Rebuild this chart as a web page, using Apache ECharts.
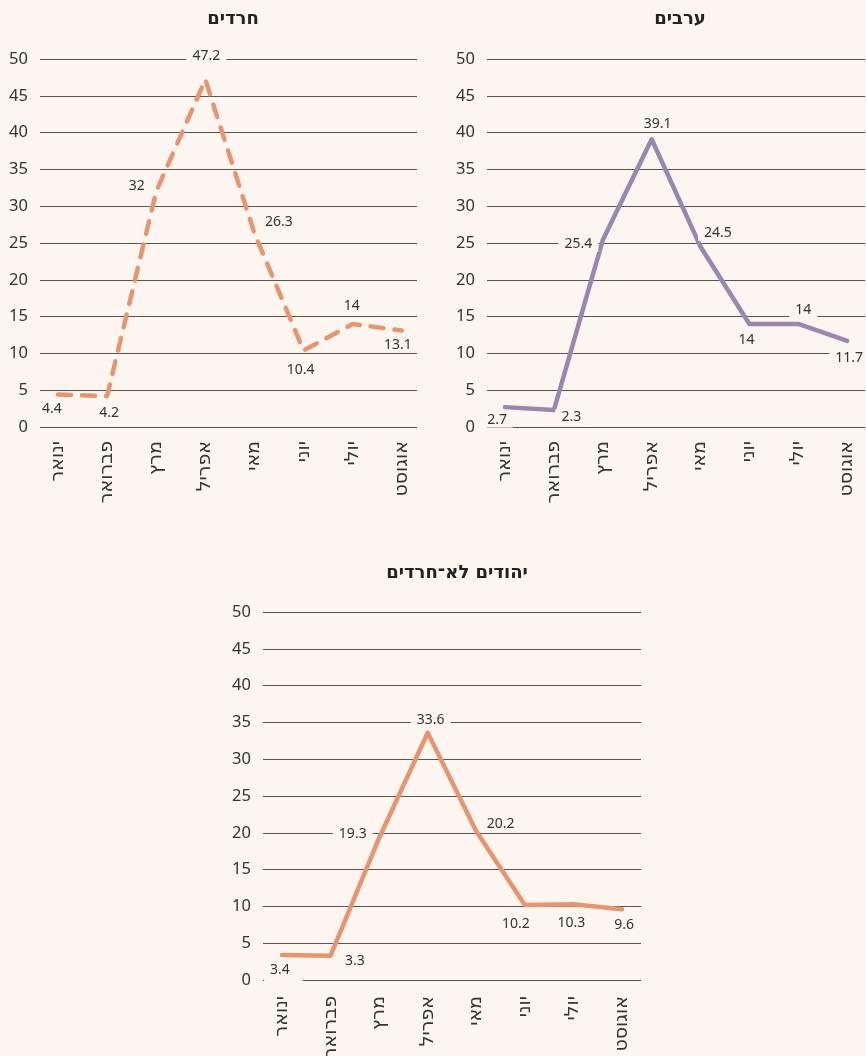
<!DOCTYPE html>
<html>
<head>
<meta charset="utf-8">
<script src="https://cdn.jsdelivr.net/npm/echarts@6/dist/echarts.min.js"></script>
<style>
  html, body { margin: 0; padding: 0; background: #fcf5f0; }
  #chart { width: 866px; height: 1056px; }
</style>
</head>
<body>
<div id="chart"></div>
<script>
// קטגוריות וערכים
const months = ['ינואר', 'פברואר', 'מרץ', 'אפריל', 'מאי', 'יוני', 'יולי', 'אוגוסט'];
const haredim = [4.4, 4.2, 32, 47.2, 26.3, 10.4, 14, 13.1];
const arabs = [2.7, 2.3, 25.4, 39.1, 24.5, 14, 14, 11.7];
const nonHaredi = [3.4, 3.3, 19.3, 33.6, 20.2, 10.2, 10.3, 9.6];
const titles = ['חרדים', 'ערבים', 'יהודים לא־חרדים'];

// מיקום תוויות הנתונים (position, offset, padding אופציונלי)
const labelsHaredim = [
    ['bottom', [-6, 1]], ['bottom', [2, 3]], ['left', [0, -5]], ['top', [1, -10]],
    ['right', [-1, -11]], ['bottom', [-3, 6]], ['top', [-1, -4]], ['bottom', [-4, 1]]
];
const labelsArabs = [
    ['bottom', [-8, -1]], ['right', [-4, 7]], ['left', [1, 4]], ['top', [6, -2]],
    ['right', [-8, -14]], ['bottom', [-3, 3]], ['top', [5, 0]], ['bottom', [2, 4]]
];
const labelsNonHaredi = [
    ['bottom', [1.5, 2], [1, 13, 12, 6]], ['right', [3, 5]], ['left', [-1, -4]], ['top', [3, 1]],
    ['right', [-1, -7]], ['bottom', [-9, 6]], ['bottom', [-2, 5]], ['bottom', [2, 2]]
];

const bg = '#fcf5f0';
const textColor = '#333';
const font = '"Noto Sans", "DejaVu Sans", sans-serif';
const hebFont = '"DejaVu Sans", sans-serif';

// שתי רשתות לכל גרף: אחת לקווי הרשת ואחת לנתונים
const panels = [
    { title: titles[0], titleX: 228, titleY: 5, gridLeft: 40, gridWidth: 377, top: 59,
      dataLeft: 33.4, dataWidth: 393, values: haredim, labels: labelsHaredim,
      color: '#e8956e', dashed: true, margin: 14 },
    { title: titles[1], titleX: 675, titleY: 5, gridLeft: 487, gridWidth: 378, top: 59,
      dataLeft: 480.6, dataWidth: 391, values: arabs, labels: labelsArabs,
      color: '#9b86b0', dashed: false, margin: 14 },
    { title: titles[2], titleX: 452, titleY: 559, gridLeft: 263, gridWidth: 378, top: 612,
      dataLeft: 257.7, dataWidth: 388.6, values: nonHaredi, labels: labelsNonHaredi,
      color: '#e8956f', dashed: false, margin: 16 }
];

const grid = [], xAxis = [], yAxis = [], series = [], title = [];

panels.forEach(function (p, i) {
    title.push({
        text: p.title,
        left: p.titleX,
        top: p.titleY,
        textAlign: 'center',
        textStyle: { fontFamily: hebFont, fontSize: 18, fontWeight: 'bold', color: '#222' }
    });
    grid.push({ left: p.gridLeft, width: p.gridWidth, top: p.top, height: 368,
                containLabel: false, outerBoundsMode: 'none' });
    grid.push({ left: p.dataLeft, width: p.dataWidth, top: p.top, height: 368,
                containLabel: false, outerBoundsMode: 'none' });

    xAxis.push({ type: 'category', gridIndex: i * 2, data: months, show: false });
    xAxis.push({
        type: 'category',
        gridIndex: i * 2 + 1,
        data: months,
        boundaryGap: true,
        axisLine: { show: false },
        axisTick: { show: false },
        axisLabel: {
            rotate: 90,
            margin: p.margin,
            interval: 0,
            fontSize: 19,
            fontFamily: hebFont,
            color: textColor
        }
    });

    yAxis.push({
        type: 'value',
        gridIndex: i * 2,
        min: 0,
        max: 50,
        interval: 5,
        axisLine: { show: false },
        axisTick: { show: false },
        axisLabel: { fontSize: 16.5, fontFamily: font, color: textColor, margin: 12 },
        splitLine: { lineStyle: { color: '#555', width: 1 } }
    });
    yAxis.push({
        type: 'value',
        gridIndex: i * 2 + 1,
        min: 0,
        max: 50,
        interval: 5,
        show: false,
        splitLine: { show: false }
    });

    series.push({
        name: p.title,
        type: 'line',
        xAxisIndex: i * 2 + 1,
        yAxisIndex: i * 2 + 1,
        symbol: 'circle',
        symbolSize: 1,
        showSymbol: true,
        itemStyle: { color: 'rgba(0,0,0,0)' },
        animation: false,
        lineStyle: {
            color: p.color,
            width: 4.5,
            type: p.dashed ? [13, 11] : 'solid',
            cap: 'round',
            join: 'round'
        },
        data: p.values.map(function (v, k) {
            const lab = {
                show: true,
                position: p.labels[k][0],
                offset: p.labels[k][1]
            };
            if (p.labels[k][2]) lab.padding = p.labels[k][2];
            return { value: v, label: lab };
        }),
        label: {
            show: true,
            fontSize: 14,
            fontFamily: font,
            color: textColor,
            backgroundColor: bg,
            padding: [1, 6]
        }
    });
});

const chart = echarts.init(document.getElementById('chart'));
chart.setOption({
    backgroundColor: bg,
    animation: false,
    title: title,
    grid: grid,
    xAxis: xAxis,
    yAxis: yAxis,
    series: series
});
</script>
</body>
</html>
